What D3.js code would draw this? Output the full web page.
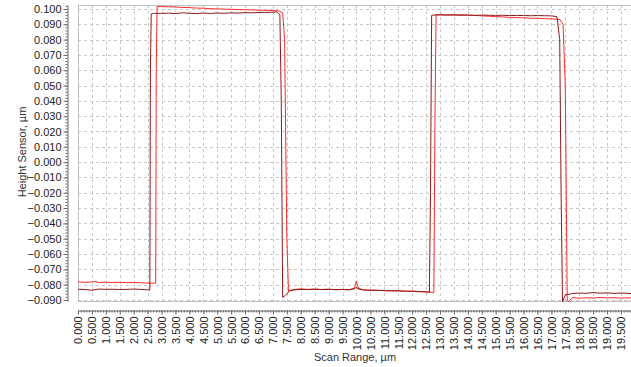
<!DOCTYPE html>
<html>
<head>
<meta charset="utf-8">
<script src="https://cdn.jsdelivr.net/npm/d3@7"></script>
<style>
  body { margin: 0; background: #fff; }
  svg { display: block; font-family: "Liberation Sans", Arial, sans-serif; }
  .grid line { stroke: #c8c8c8; stroke-dasharray: 3,3; }
  .axis path, .axis line { stroke: #666; }
  .axis text { fill: #222; font-size: 11px; }
</style>
</head>
<body>
<svg class="chart"></svg>
<script>
// dark (maroon) trace
const darkScan = [0, 0.25, 0.5, 0.75, 1, 1.25, 1.5, 1.75, 2, 2.25, 2.5, 2.58, 2.6, 2.63, 2.75, 3, 3.25, 3.5, 3.75, 4, 4.25, 4.5, 4.75, 5, 5.25, 5.5, 5.75, 6, 6.25, 6.5, 6.75, 7, 7.15, 7.25, 7.3, 7.35, 7.45, 7.6, 7.75, 8, 8.25, 8.5, 8.75, 9, 9.25, 9.5, 9.75, 9.95, 10, 10.05, 10.25, 10.5, 10.75, 11, 11.25, 11.5, 11.75, 12, 12.25, 12.5, 12.62, 12.66, 12.7, 12.75, 13, 13.25, 13.5, 13.75, 14, 14.25, 14.5, 14.75, 15, 15.25, 15.5, 15.75, 16, 16.25, 16.5, 16.75, 17, 17.2, 17.3, 17.35, 17.4, 17.5, 17.75, 18, 18.25, 18.5, 18.75, 19, 19.25, 19.5, 19.86];
const darkHeight = [-0.0830, -0.0832, -0.0837, -0.0829, -0.0831, -0.0830, -0.0832, -0.0831, -0.0829, -0.0831, -0.0834, -0.0836, 0.0600, 0.0968, 0.0972, 0.0971, 0.0973, 0.0970, 0.0975, 0.0972, 0.0970, 0.0973, 0.0971, 0.0974, 0.0972, 0.0975, 0.0973, 0.0976, 0.0975, 0.0977, 0.0978, 0.0979, 0.0981, 0.0962, 0.0400, -0.0884, -0.0870, -0.0840, -0.0835, -0.0831, -0.0833, -0.0830, -0.0832, -0.0831, -0.0833, -0.0832, -0.0834, -0.0826, -0.0815, -0.0828, -0.0835, -0.0836, -0.0838, -0.0839, -0.0841, -0.0840, -0.0843, -0.0844, -0.0846, -0.0848, -0.0849, -0.0200, 0.0958, 0.0960, 0.0961, 0.0960, 0.0961, 0.0959, 0.0960, 0.0958, 0.0960, 0.0959, 0.0958, 0.0959, 0.0957, 0.0958, 0.0957, 0.0956, 0.0957, 0.0956, 0.0955, 0.0950, 0.0800, -0.0200, -0.0913, -0.0868, -0.0858, -0.0855, -0.0857, -0.0852, -0.0856, -0.0854, -0.0857, -0.0855, -0.0858];

// bright red trace
const redScan = [0, 0.25, 0.5, 0.6, 0.75, 1, 1.25, 1.5, 1.75, 2, 2.25, 2.5, 2.75, 2.79, 2.81, 2.84, 3, 3.25, 3.5, 3.75, 4, 4.25, 4.5, 4.75, 5, 5.25, 5.5, 5.75, 6, 6.25, 6.5, 6.75, 7, 7.2, 7.35, 7.42, 7.5, 7.56, 7.75, 8, 8.25, 8.5, 8.75, 9, 9.25, 9.5, 9.75, 9.93, 10, 10.07, 10.25, 10.5, 10.75, 11, 11.25, 11.5, 11.75, 12, 12.25, 12.5, 12.78, 12.82, 12.86, 13, 13.25, 13.5, 13.75, 14, 14.25, 14.5, 14.75, 15, 15.25, 15.5, 15.75, 16, 16.25, 16.5, 16.75, 17, 17.3, 17.42, 17.5, 17.57, 17.62, 17.75, 18, 18.25, 18.5, 18.75, 19, 19.25, 19.5, 19.86];
const redHeight = [-0.0782, -0.0785, -0.0783, -0.0778, -0.0786, -0.0784, -0.0786, -0.0785, -0.0787, -0.0786, -0.0788, -0.0790, -0.0791, -0.0790, 0.0600, 0.1017, 0.1016, 0.1014, 0.1013, 0.1010, 0.1009, 0.1006, 0.1005, 0.1002, 0.1001, 0.0999, 0.0998, 0.0996, 0.0995, 0.0994, 0.0992, 0.0991, 0.0990, 0.0988, 0.0975, 0.0800, -0.0500, -0.0842, -0.0832, -0.0828, -0.0831, -0.0829, -0.0832, -0.0830, -0.0833, -0.0831, -0.0833, -0.0822, -0.0776, -0.0824, -0.0834, -0.0837, -0.0836, -0.0840, -0.0839, -0.0842, -0.0843, -0.0842, -0.0845, -0.0847, -0.0852, 0.0300, 0.0962, 0.0963, 0.0962, 0.0961, 0.0962, 0.0960, 0.0958, 0.0955, 0.0953, 0.0950, 0.0948, 0.0945, 0.0944, 0.0942, 0.0940, 0.0939, 0.0937, 0.0935, 0.0932, 0.0900, 0.0500, -0.0900, -0.0912, -0.0885, -0.0889, -0.0886, -0.0888, -0.0884, -0.0887, -0.0885, -0.0888, -0.0886];

const yTicks = d3.range(-0.09, 0.1001, 0.01);
const xTicks = d3.range(0, 19.51, 0.5);

const width = 631, height = 367;
const plot = { left: 78, right: 631, top: 5, bottom: 301 };

const svg = d3.select('.chart').attr('width', width).attr('height', height);

const x = d3.scaleLinear().domain([0, 19.86]).range([plot.left, plot.right]);
const y = d3.scaleLinear().domain([-0.0907, 0.1026]).range([plot.bottom, plot.top]);

// grid
const grid = svg.append('g').attr('class', 'grid');
grid.selectAll('.gx').data(xTicks).enter().append('line')
  .attr('x1', d => Math.round(x(d)) + 0.5).attr('x2', d => Math.round(x(d)) + 0.5)
  .attr('y1', plot.top).attr('y2', plot.bottom);
grid.selectAll('.gy').data(yTicks).enter().append('line')
  .attr('x1', plot.left).attr('x2', plot.right)
  .attr('y1', d => Math.round(y(d)) + 0.5).attr('y2', d => Math.round(y(d)) + 0.5);

// plot frame
svg.append('rect')
  .attr('x', plot.left + 0.5).attr('y', plot.top + 0.5)
  .attr('width', plot.right - plot.left).attr('height', plot.bottom - plot.top)
  .attr('fill', 'none').attr('stroke', '#c0c0c0');

// axes
const yAxisX = 67, xAxisY = 310;
svg.append('g').attr('class', 'axis')
  .attr('transform', 'translate(' + (yAxisX + 0.5) + ',0)')
  .call(d3.axisLeft(y).tickValues(d3.range(-0.09, 0.1021, 0.002)).tickSize(2).tickFormat(''))
  .select('.domain').remove();
svg.append('g').attr('class', 'axis')
  .attr('transform', 'translate(' + (yAxisX + 0.5) + ',0)')
  .call(d3.axisLeft(y).tickValues(yTicks).tickSize(4).tickPadding(2).tickSizeOuter(0).tickFormat(d3.format('.3f')));

svg.append('g').attr('class', 'axis')
  .attr('transform', 'translate(0,' + (xAxisY + 0.5) + ')')
  .call(d3.axisBottom(x).tickValues(d3.range(0, 19.81, 0.1)).tickSize(2).tickFormat(''))
  .select('.domain').remove();
svg.append('g').attr('class', 'axis')
  .attr('transform', 'translate(0,' + (xAxisY + 0.5) + ')')
  .call(d3.axisBottom(x).tickValues(xTicks).tickSize(4).tickSizeOuter(0).tickFormat(d3.format('.3f')))
  .selectAll('text')
  .attr('transform', 'rotate(-90)')
  .attr('text-anchor', 'end')
  .attr('x', -6).attr('y', 0).attr('dy', '0.35em');

// traces
const line = d3.line().x(d => x(d[0])).y(d => y(d[1]));
svg.append('path')
  .datum(redScan.map((s, i) => [s, redHeight[i]]))
  .attr('d', line).attr('fill', 'none').attr('stroke', '#ff2a2a').attr('stroke-width', 1);
svg.append('path')
  .datum(darkScan.map((s, i) => [s, darkHeight[i]]))
  .attr('d', line).attr('fill', 'none').attr('stroke', '#8b1a1a').attr('stroke-width', 1);

// titles
svg.append('text')
  .attr('transform', 'translate(26,152) rotate(-90)')
  .attr('text-anchor', 'middle')
  .style('font-size', '11px').style('fill', '#333')
  .text('Height Sensor, µm');
svg.append('text')
  .attr('x', 355).attr('y', 361)
  .attr('text-anchor', 'middle')
  .style('font-size', '11px').style('fill', '#333')
  .text('Scan Range, µm');
</script>
</body>
</html>
